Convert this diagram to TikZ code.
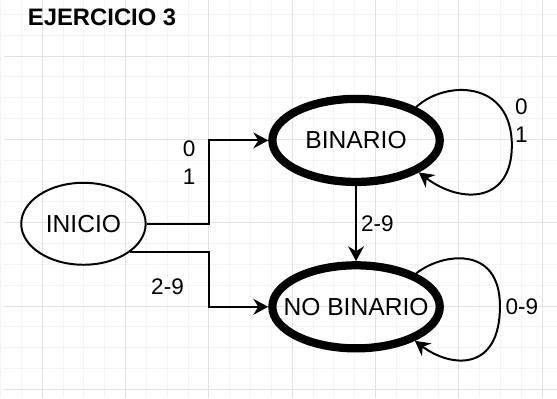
\documentclass[tikz,border=0pt]{standalone}
\usepackage{fontspec}
\setmainfont{Liberation Sans}
\usetikzlibrary{shapes.geometric, arrows.meta}

\definecolor{rejillamenor}{HTML}{F4F4F4}
\definecolor{rejillamayor}{HTML}{E2E2E2}

\begin{document}
\begin{tikzpicture}[x=1pt, y=-1pt,
    estado/.style={draw, ellipse, line width=2pt, inner ysep=0pt, inner xsep=-30pt,
        minimum width=125.4pt, minimum height=82.6pt, font=\fontsize{24.8}{29}\selectfont},
    aceptado/.style={estado, line width=8.3pt, minimum width=168.7pt, minimum height=83.7pt},
    trans/.style={line width=2pt, -{Stealth[length=15pt, width=16pt, inset=5pt]}},
    etiqueta/.style={align=center, inner sep=0pt, font=\fontsize{22.7}{28.2}\selectfont}]

    % fondo y rejilla
    \fill[white] (0,0) rectangle (557,401);
    \foreach \x in {-3.3,17.7,...,557} \draw[rejillamenor, line width=1pt] (\x,0) -- (\x,401);
    \foreach \y in {14,35,...,401} \draw[rejillamenor, line width=1pt] (0,\y) -- (557,\y);
    \foreach \x in {38.7,122.7,...,557} \draw[rejillamayor, line width=1pt] (\x,0) -- (\x,401);
    \foreach \y in {56,140,...,401} \draw[rejillamayor, line width=1pt] (0,\y) -- (557,\y);
    \useasboundingbox (0,0) rectangle (557,401);

    \node[font=\bfseries\fontsize{24}{29}\selectfont, anchor=west, inner sep=0pt] (titulo) at (24.2,16.7) {EJERCICIO 3};

    % estados
    \node[estado] (ini) at (80.3,225) {INICIO};
    \node[aceptado] (bin) at (355,141) {BINARIO};
    \node[aceptado] (nob) at (355,308.7) {NO BINARIO};

    % transiciones
    \coordinate (codo) at (206.7,0);
    \draw[trans] (ini.east) -- (ini.east -| codo) |- (bin.west);
    \draw[trans] (ini.-31) -- (ini.-31 -| codo) |- (nob.west);
    \draw[trans] (bin.south) -- (nob.north);
    \draw[trans] (bin.29) .. controls (445,80) and (512,80) .. (512,146)
        .. controls (512,205) and (460,205) .. (bin.-27);
    \draw[trans] (nob.29) .. controls (440,255) and (500,245) .. (500,308)
        .. controls (500,375) and (450,370) .. (nob.-30);

    \node[etiqueta] (e01) at (186.7,163.3) {0\\1};
    \node[etiqueta] (e29) at (165,288.3) {2-9};
    \node[etiqueta] (e29b) at (376.5,225) {2-9};
    \node[etiqueta] (e01b) at (521.7,121) {0\\1};
    \node[etiqueta] (e09) at (522,308.3) {0-9};
\end{tikzpicture}
\end{document}
